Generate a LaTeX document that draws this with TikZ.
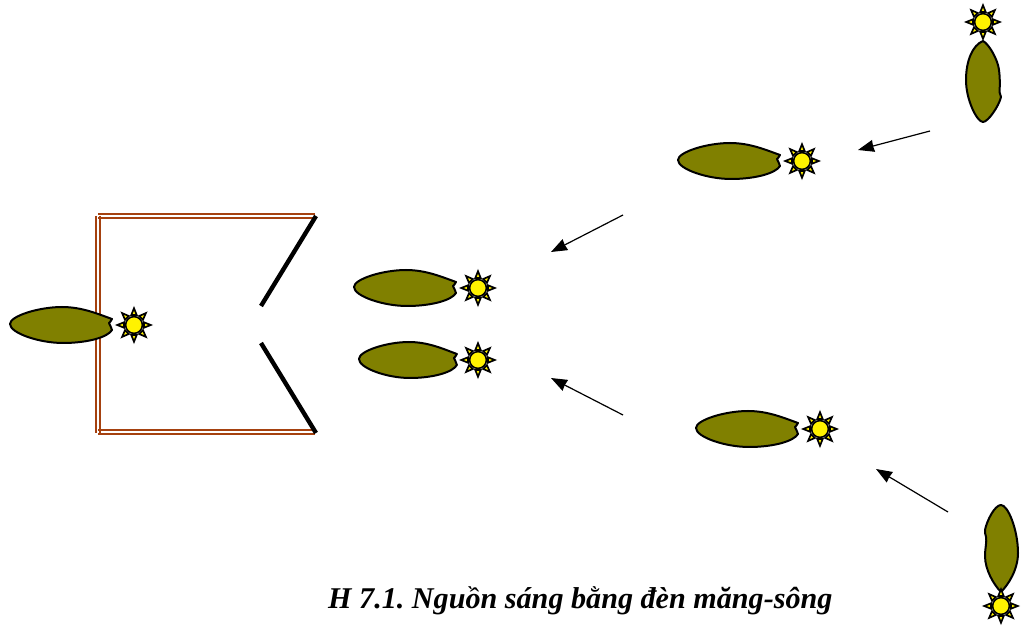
\documentclass[tikz,border=0pt]{standalone}
\usepackage{fontspec}
\setmainfont{Liberation Serif}
\usetikzlibrary{arrows.meta}
\definecolor{lampolive}{RGB}{128,128,0}
\definecolor{framebrown}{RGB}{165,65,15}
\tikzset{
  x=1pt,y=-1pt,
  body/.style={draw=black,fill=lampolive,line width=2pt,line join=round},
  ray/.style={draw=black,fill=yellow,line width=1.7pt,line join=miter},
  disc/.style={draw=black,fill=yellow,line width=1.6pt},
  wall/.style={draw=framebrown,line width=2pt},
  flap/.style={draw=black,line width=4.4pt},
  beam/.style={draw=black,line width=1.2pt,-{Stealth[length=16pt,width=12pt,inset=0.5pt]}},
  sunshine/.pic={
    \foreach \a in {0,45,...,315}{
      \path[ray,rotate=\a] (10,-2.7) -- (16.8,0) -- (10,2.7) -- cycle;
    }
    \path[disc] (0,0) circle (8.4);
  },
  flame/.pic={
    \path[body] (-124,-1)
      .. controls (-124,-9) and (-95,-18) .. (-72,-18)
      .. controls (-52,-18) and (-36,-11) .. (-22,-6)
      .. controls (-23,-4) and (-24,-3) .. (-25,-2)
      .. controls (-24,0) and (-23,2) .. (-22,5)
      .. controls (-26,12) and (-46,18) .. (-71,18)
      .. controls (-95,18) and (-124,8) .. cycle;
  },
}
\begin{document}
\begin{tikzpicture}
\useasboundingbox (0,0) rectangle (1021,628);

% housing: doubled brown walls and the two black flaps
\coordinate (tl1) at (98,214);   \coordinate (tr1) at (315,214);
\coordinate (tl2) at (98,218.5); \coordinate (tr2) at (315,218.5);
\coordinate (bl1) at (98,430);   \coordinate (br1) at (315,430);
\coordinate (bl2) at (98,434.5); \coordinate (br2) at (315,434.5);
\coordinate (vt1) at (95.5,216); \coordinate (vb1) at (95.5,433);
\coordinate (vt2) at (100,216);  \coordinate (vb2) at (100,433);
\draw[wall] (tl1) -- (tr1);
\draw[wall] (tl2) -- (tr2);
\draw[wall] (bl1) -- (br1);
\draw[wall] (bl2) -- (br2);
\draw[wall] (vt1) -- (vb1);
\draw[wall] (vt2) -- (vb2);

\coordinate (fa1) at (316,216); \coordinate (fa2) at (261,306);
\coordinate (fb1) at (261,343); \coordinate (fb2) at (316,433);
\draw[flap] (fa1) -- (fa2);
\draw[flap] (fb1) -- (fb2);

% horizontal lamps
\pic at (134,325) {flame};
\pic at (134,325) {sunshine};
\pic at (478,288) {flame};
\pic at (478,288) {sunshine};
\pic[xscale=.96] at (478,360) {flame};
\pic at (478,360) {sunshine};
\pic at (802,161) {flame};
\pic at (802,161) {sunshine};
\pic at (820,429) {flame};
\pic at (820,429) {sunshine};

% upright lamp, upper right
\path[body] (983,41)
  .. controls (989,44) and (998,60) .. (999,70)
  .. controls (1000,78) and (1000,84) .. (999.5,92)
  .. controls (1000,94) and (1001,95) .. (1001,97)
  .. controls (999,106) and (988,122) .. (983,122)
  .. controls (977,122) and (966,100) .. (966,80)
  .. controls (966,60) and (973,45) .. cycle;
\pic at (983,22) {sunshine};

% inverted lamp, lower right
\path[body] (1001,505)
  .. controls (1008,505) and (1018,530) .. (1018,553)
  .. controls (1018,570) and (1008,585) .. (1001,592)
  .. controls (994,585) and (985,570) .. (985,556)
  .. controls (985,548) and (987,542) .. (986,537)
  .. controls (985,534) and (985,532) .. (985,530)
  .. controls (987,520) and (995,505) .. cycle;
\pic at (1001,606) {sunshine};

% light directions
\coordinate (a1s) at (930,131); \coordinate (a1e) at (858,150);
\coordinate (a2s) at (623,215); \coordinate (a2e) at (551,252);
\coordinate (a3s) at (623,415); \coordinate (a3e) at (551,378);
\coordinate (a4s) at (948,512); \coordinate (a4e) at (876,469);
\draw[beam] (a1s) -- (a1e);
\draw[beam] (a2s) -- (a2e);
\draw[beam] (a3s) -- (a3e);
\draw[beam] (a4s) -- (a4e);

\node[anchor=base west,inner sep=0pt,font=\fontsize{30.15}{34}\selectfont\bfseries\itshape\frenchspacing] (caption) at (328,608) {H 7.1. Nguồn sáng bằng đèn măng-sông};
\end{tikzpicture}
\end{document}
